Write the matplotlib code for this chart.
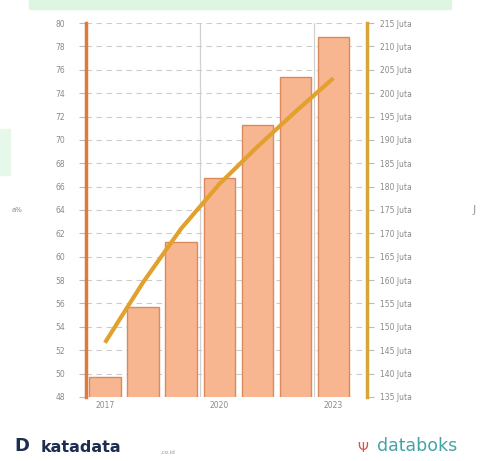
import numpy as np
import matplotlib.pyplot as plt
from matplotlib.patches import Rectangle

years = [2017, 2018, 2019, 2020, 2021, 2022, 2023]
pct = [49.7, 55.7, 61.3, 66.7, 71.3, 75.4, 78.8]
juta = [146.6, 159.5, 171.0, 180.5, 188.5, 196.0, 203.2]
shown_years = [2017, 2020, 2023]
left_ticks = list(range(48, 81, 2))
right_ticks = list(range(135, 216, 5))

bar_face = "#F8B690"
bar_edge = "#D98A5E"
left_col = "#E07A3C"
right_col = "#D9A535"
line_col = "#E2A12C"
txt_col = "#8a8a8a"

fig = plt.figure(figsize=(4.8, 4.61), dpi=100)

# faint watermark bits
fig.patches.append(Rectangle((0.06, 0.98), 0.88, 0.03, transform=fig.transFigure,
                             color="#DDF6E2", zorder=0))
fig.patches.append(Rectangle((0.0, 0.62), 0.02, 0.1, transform=fig.transFigure,
                             color="#E6F8EA", zorder=0))

ax = fig.add_axes([0.179, 0.139, 0.586, 0.811])
x = np.arange(len(years)) + 0.5
ax.bar(x, pct, width=0.82, color=bar_face, edgecolor=bar_edge, linewidth=1.0, zorder=2)
ax.set_ylim(48, 80)
ax.set_xlim(0, 7.39)
ax.set_yticks(left_ticks)
ax.set_yticklabels([str(t) for t in left_ticks], fontsize=5.5, color=txt_col)
ax.tick_params(axis="y", length=5, color="#bbbbbb", pad=10)
ax.grid(axis="y", color="#cccccc", linestyle=(0, (5, 4)), linewidth=0.8, zorder=0)

# vertical guides at year boundaries
for yr in shown_years:
    ax.axvline(years.index(yr), color="#d0d0d0", linewidth=0.9, zorder=1)

ax.set_xticks([x[years.index(y)] for y in shown_years])
ax.set_xticklabels([str(y) for y in shown_years], fontsize=5.5, color=txt_col)
ax.tick_params(axis="x", length=0, pad=3)

for s in ["top", "right", "bottom"]:
    ax.spines[s].set_visible(False)
ax.spines["left"].set_color(left_col)
ax.spines["left"].set_linewidth(2.5)
ax.spines["left"].set_zorder(5)

ax2 = ax.twinx()
ax2.plot(x, juta, color=line_col, linewidth=3.0, solid_capstyle="butt",
         solid_joinstyle="round", zorder=4)
ax2.set_ylim(135, 215)
ax2.set_yticks(right_ticks)
ax2.set_yticklabels([f"{t} Juta" for t in right_ticks], fontsize=5.5, color=txt_col)
ax2.tick_params(axis="y", length=5, color="#bbbbbb", pad=4)
for s in ["top", "left", "bottom"]:
    ax2.spines[s].set_visible(False)
ax2.spines["right"].set_color(right_col)
ax2.spines["right"].set_linewidth(2.5)

fig.text(0.035, 0.545, "a%", fontsize=5, color=txt_col, ha="center", va="center")
fig.text(0.985, 0.545, "J", fontsize=8, color="#999999", ha="left", va="center")

fig.text(0.03, 0.012, "D", fontsize=13, fontweight="bold", color="#1d2d50",
         ha="left", va="bottom")
fig.text(0.085, 0.014, "katadata", fontsize=11.5, fontweight="bold", color="#1d2d50",
         ha="left", va="bottom")
fig.text(0.335, 0.014, ".co.id", fontsize=4, color="#8a93a8", ha="left", va="bottom")
fig.text(0.745, 0.014, "\u03a8", fontsize=10, color="#e0504a", ha="left", va="bottom")
fig.text(0.785, 0.014, "databoks", fontsize=12.5, color="#45a3a8", ha="left", va="bottom")

fig.savefig("out.png", dpi=100)
